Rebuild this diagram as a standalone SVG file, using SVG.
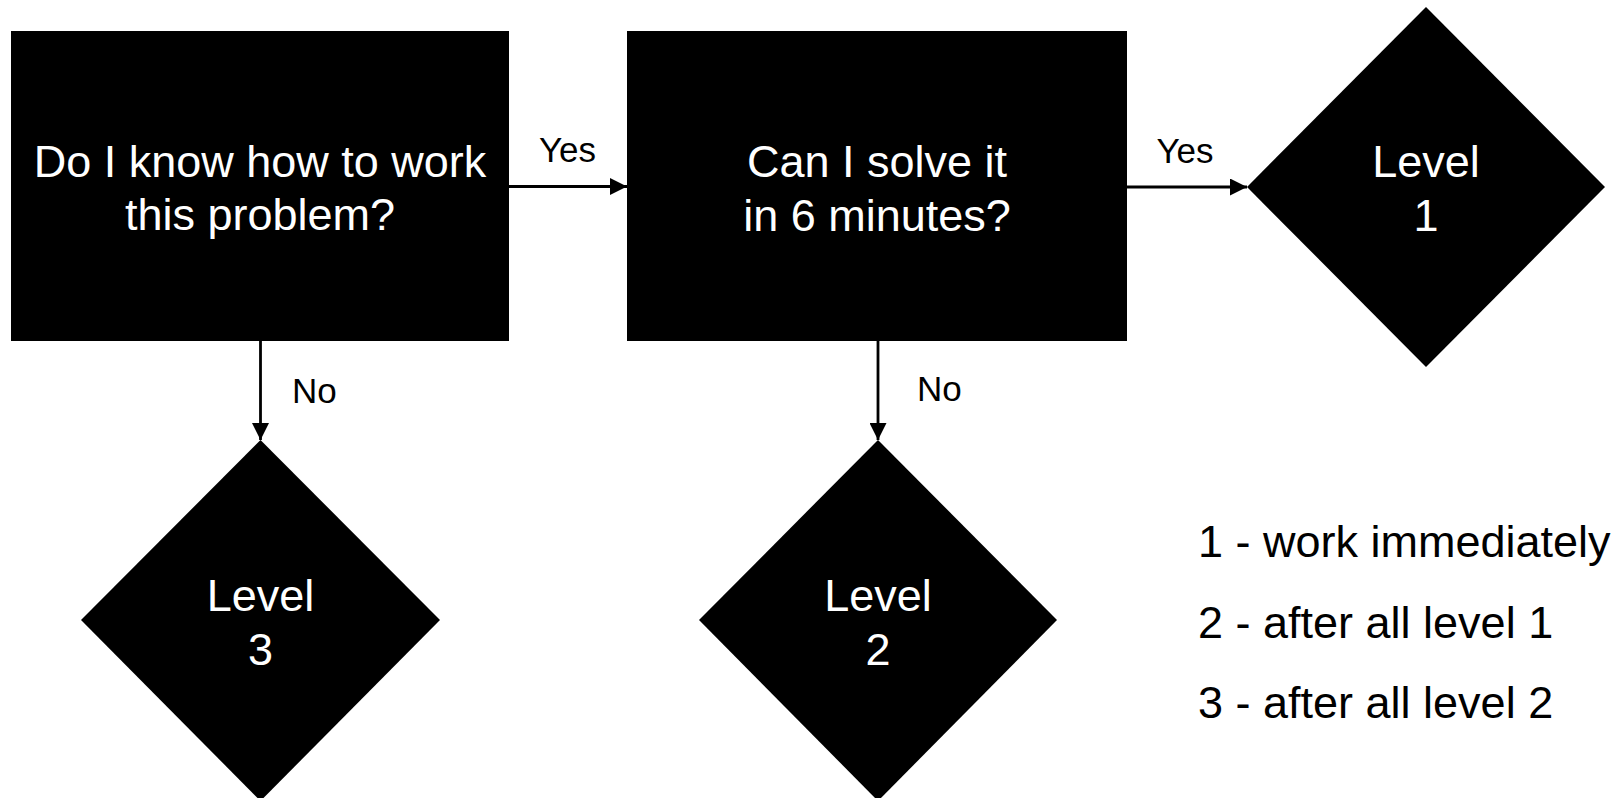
<svg xmlns="http://www.w3.org/2000/svg" width="1623" height="798" viewBox="0 0 1623 798">
  <style>
    .shape { fill: #000000; }
    .inner { font-family: "Liberation Sans", Arial, sans-serif; font-size: 45px; fill: #ffffff; text-anchor: middle; }
    .lbl { font-family: "Liberation Sans", Arial, sans-serif; font-size: 35px; fill: #000000; }
    .legend { font-family: "Liberation Sans", Arial, sans-serif; font-size: 45px; fill: #000000; }
    .conn { stroke: #000000; stroke-width: 2.8; fill: none; marker-end: url(#arrow); }
  </style>
  <defs>
    <marker id="arrow" viewBox="0 0 16 16" refX="16" refY="8" markerWidth="17" markerHeight="17" markerUnits="userSpaceOnUse" orient="auto">
      <path d="M0,0 L16,8 L0,16 Z" fill="#000000"/>
    </marker>
  </defs>
  <rect width="1623" height="798" fill="#ffffff"/>

  <g id="connectors">
    <line class="conn" x1="509" y1="186.5" x2="627" y2="186.5"/>
    <line class="conn" x1="1127" y1="187" x2="1247" y2="187"/>
    <line class="conn" x1="260.5" y1="341" x2="260.5" y2="440"/>
    <line class="conn" x1="878" y1="341" x2="878" y2="440"/>
    <text class="lbl" x="567.5" y="162" text-anchor="middle">Yes</text>
    <text class="lbl" x="1185" y="163" text-anchor="middle">Yes</text>
    <text class="lbl" x="292" y="403">No</text>
    <text class="lbl" x="917" y="401">No</text>
  </g>

  <g id="q1">
    <rect class="shape" x="11" y="31" width="498" height="310"/>
    <text class="inner" x="260" y="177">Do I know how to work</text>
    <text class="inner" x="260" y="230">this problem?</text>
  </g>

  <g id="q2">
    <rect class="shape" x="627" y="31" width="500" height="310"/>
    <text class="inner" x="877" y="177">Can I solve it</text>
    <text class="inner" x="877" y="231">in 6 minutes?</text>
  </g>

  <g id="level1">
    <polygon class="shape" points="1426,7 1605,187 1426,367 1247,187"/>
    <text class="inner" x="1426" y="177">Level</text>
    <text class="inner" x="1426" y="231">1</text>
  </g>

  <g id="level3">
    <polygon class="shape" points="260.5,440 440,620 260.5,801 81,620"/>
    <text class="inner" x="260.5" y="611">Level</text>
    <text class="inner" x="260.5" y="665">3</text>
  </g>

  <g id="level2">
    <polygon class="shape" points="878,440 1057,620 878,801 699,620"/>
    <text class="inner" x="878" y="611">Level</text>
    <text class="inner" x="878" y="665">2</text>
  </g>

  <g id="legend">
    <text class="legend" x="1198" y="557">1 - work immediately</text>
    <text class="legend" x="1198" y="638">2 - after all level 1</text>
    <text class="legend" x="1198" y="718">3 - after all level 2</text>
  </g>
</svg>
